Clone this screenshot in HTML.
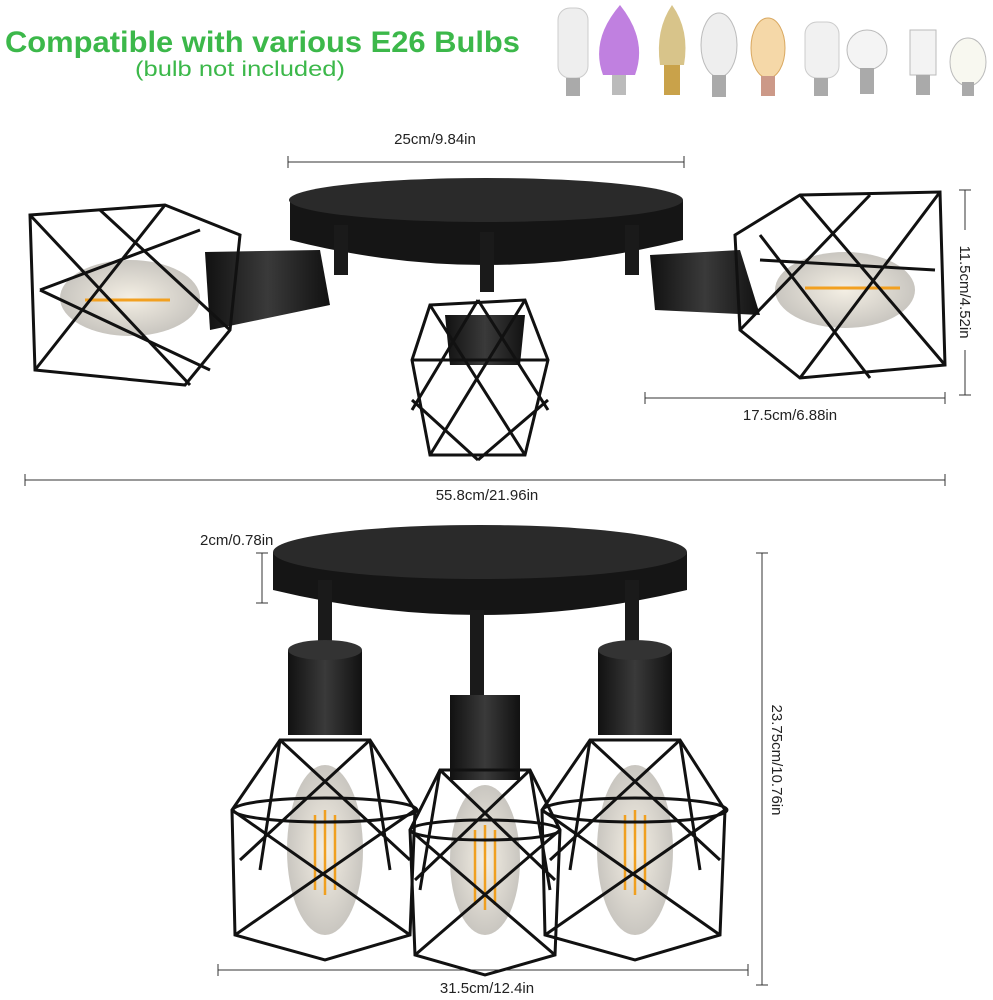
<!DOCTYPE html>
<html><head><style>
html,body{margin:0;padding:0;background:#fff;}
svg{display:block;}
text{font-family:"Liberation Sans",sans-serif;}
</style></head><body>
<svg width="993" height="1000" viewBox="0 0 993 1000" xmlns="http://www.w3.org/2000/svg">
<defs>
<linearGradient id="cyl" x1="0" x2="1"><stop offset="0" stop-color="#111"/><stop offset=".5" stop-color="#3a3a3a"/><stop offset="1" stop-color="#111"/></linearGradient>
<radialGradient id="bulb"><stop offset="0" stop-color="#f4efe4"/><stop offset="1" stop-color="#c9c6c0"/></radialGradient>
</defs>
<text x="5" y="52" font-size="30" font-weight="bold" fill="#3cb84a" textLength="515" lengthAdjust="spacingAndGlyphs">Compatible with various E26 Bulbs</text>
<text x="135" y="76" font-size="21" fill="#3cb84a" textLength="210" lengthAdjust="spacingAndGlyphs">(bulb not included)</text>
<!-- bulbs -->
<g>
<rect x="558" y="8" width="30" height="70" rx="12" fill="#eee" stroke="#ccc"/><rect x="566" y="78" width="14" height="18" fill="#aaa"/>
<path d="M603 75 Q590 40 620 5 Q648 40 635 75 Z" fill="#c080e0"/><rect x="612" y="75" width="14" height="20" fill="#bbb"/>
<path d="M660 65 Q655 30 672 5 Q690 30 684 65 Z" fill="#d8c48a"/><rect x="664" y="65" width="16" height="30" fill="#c9a24a"/>
<ellipse cx="719" cy="45" rx="18" ry="32" fill="#eee" stroke="#bbb"/><rect x="712" y="75" width="14" height="22" fill="#aaa"/>
<ellipse cx="768" cy="48" rx="17" ry="30" fill="#f5d8a8" stroke="#d9a860"/><rect x="761" y="76" width="14" height="20" fill="#c98"/>
<rect x="805" y="22" width="34" height="56" rx="12" fill="#f1f1f1" stroke="#ccc"/><rect x="814" y="78" width="14" height="18" fill="#aaa"/>
<circle cx="867" cy="50" r="20" fill="#f4f4f4" stroke="#bbb"/><rect x="860" y="68" width="14" height="26" fill="#aaa"/>
<rect x="910" y="30" width="26" height="45" fill="#f3f3f3" stroke="#bbb"/><rect x="916" y="75" width="14" height="20" fill="#aaa"/>
<ellipse cx="968" cy="62" rx="18" ry="24" fill="#f8f8f0" stroke="#bbb"/><rect x="962" y="82" width="12" height="14" fill="#aaa"/>
</g>
<g stroke="#333" stroke-width="1" fill="none">
<line x1="288" y1="162" x2="684" y2="162"/><line x1="288" y1="156" x2="288" y2="168"/><line x1="684" y1="156" x2="684" y2="168"/>
<line x1="965" y1="190" x2="965" y2="395"/><line x1="959" y1="190" x2="971" y2="190"/><line x1="959" y1="395" x2="971" y2="395"/>
<line x1="645" y1="398" x2="945" y2="398"/><line x1="645" y1="392" x2="645" y2="404"/><line x1="945" y1="392" x2="945" y2="404"/>
<line x1="25" y1="480" x2="945" y2="480"/><line x1="25" y1="474" x2="25" y2="486"/><line x1="945" y1="474" x2="945" y2="486"/>
<line x1="262" y1="553" x2="262" y2="603"/><line x1="256" y1="553" x2="268" y2="553"/><line x1="256" y1="603" x2="268" y2="603"/>
<line x1="762" y1="553" x2="762" y2="985"/><line x1="756" y1="553" x2="768" y2="553"/><line x1="756" y1="985" x2="768" y2="985"/>
<line x1="218" y1="970" x2="748" y2="970"/><line x1="218" y1="964" x2="218" y2="976"/><line x1="748" y1="964" x2="748" y2="976"/>
</g>
<g font-size="15" fill="#222">
<text x="435" y="144" text-anchor="middle">25cm/9.84in</text>
<text x="790" y="420" text-anchor="middle">17.5cm/6.88in</text>
<text x="487" y="500" text-anchor="middle">55.8cm/21.96in</text>
<text x="200" y="545">2cm/0.78in</text>
<text x="487" y="993" text-anchor="middle">31.5cm/12.4in</text>
<rect x="958" y="230" width="16" height="120" fill="#fff"/>
<text transform="translate(960,292) rotate(90)" text-anchor="middle">11.5cm/4.52in</text>
<text transform="translate(772,760) rotate(90)" text-anchor="middle">23.75cm/10.76in</text>
</g>
<path d="M290 200 L290 240 Q486 290 683 240 L683 200 Z" fill="#151515"/>
<ellipse cx="486" cy="200" rx="197" ry="22" fill="#2a2a2a"/>
<rect x="334" y="225" width="14" height="50" fill="#1a1a1a"/><rect x="625" y="225" width="14" height="50" fill="#1a1a1a"/>
<rect x="480" y="232" width="14" height="60" fill="#1a1a1a"/>
<ellipse cx="130" cy="298" rx="70" ry="38" fill="url(#bulb)"/>
<line x1="85" y1="300" x2="170" y2="300" stroke="#f2a020" stroke-width="3"/>
<path d="M205 252 L320 250 L330 305 L210 330 Z" fill="url(#cyl)"/>
<g stroke="#111" stroke-width="3" fill="none">
<path d="M30 215 L165 205 L240 235 L230 330 L185 385 L35 370 Z"/>
<path d="M30 215 L190 385 M165 205 L35 370 M100 210 L230 330 M40 290 L200 230 M40 290 L210 370"/>
</g>
<ellipse cx="845" cy="290" rx="70" ry="38" fill="url(#bulb)"/>
<line x1="805" y1="288" x2="900" y2="288" stroke="#f2a020" stroke-width="3"/>
<path d="M650 255 L740 250 L760 315 L655 310 Z" fill="url(#cyl)"/>
<g stroke="#111" stroke-width="3" fill="none">
<path d="M735 235 L800 195 L940 192 L945 365 L800 378 L740 330 Z"/>
<path d="M800 195 L945 365 M940 192 L800 378 M760 260 L935 270 M740 330 L870 195 M870 378 L760 235"/>
</g>
<path d="M445 315 L525 315 L520 365 L450 365 Z" fill="url(#cyl)"/>
<g stroke="#111" stroke-width="3" fill="none">
<path d="M430 305 L525 300 L548 360 L525 455 L430 455 L412 360 Z"/>
<path d="M430 305 L525 455 M525 300 L430 455 M412 360 L548 360 M478 300 L412 410 M478 300 L548 410 M478 460 L412 400 M478 460 L548 400"/>
</g>
<path d="M273 552 L273 590 Q480 640 687 590 L687 552 Z" fill="#151515"/>
<ellipse cx="480" cy="552" rx="207" ry="27" fill="#2a2a2a"/>
<rect x="318" y="580" width="14" height="80" fill="#1a1a1a"/>
<rect x="470" y="610" width="14" height="90" fill="#1a1a1a"/>
<rect x="625" y="580" width="14" height="80" fill="#1a1a1a"/>
<g id="lampA">
<rect x="288" y="650" width="74" height="85" fill="url(#cyl)"/>
<ellipse cx="325" cy="650" rx="37" ry="10" fill="#333"/>
<ellipse cx="325" cy="850" rx="38" ry="85" fill="url(#bulb)"/>
<path d="M315 815 L315 890 M325 810 L325 895 M335 815 L335 890" stroke="#f0a020" stroke-width="2.5"/>
<g stroke="#111" stroke-width="3" fill="none">
<path d="M280 740 L370 740 L415 810 L410 935 L325 960 L235 935 L232 810 Z"/>
<ellipse cx="325" cy="810" rx="92" ry="12"/>
<path d="M232 810 L410 935 M415 810 L235 935 M280 740 L260 870 M370 740 L390 870 M280 740 L410 860 M370 740 L240 860"/>
</g>
</g>
<use href="#lampA" transform="translate(310,0)"/>
<g>
<rect x="450" y="695" width="70" height="85" fill="url(#cyl)"/>
<ellipse cx="485" cy="860" rx="35" ry="75" fill="url(#bulb)"/>
<path d="M475 830 L475 905 M485 825 L485 910 M495 830 L495 905" stroke="#f0a020" stroke-width="2.5"/>
<g stroke="#111" stroke-width="3" fill="none">
<path d="M440 770 L530 770 L560 830 L555 955 L485 975 L415 955 L410 830 Z"/>
<ellipse cx="485" cy="830" rx="75" ry="10"/>
<path d="M410 830 L555 955 M560 830 L415 955 M440 770 L420 890 M530 770 L550 890 M440 770 L555 880 M530 770 L415 880"/>
</g>
</g>
</svg>
</body></html>
